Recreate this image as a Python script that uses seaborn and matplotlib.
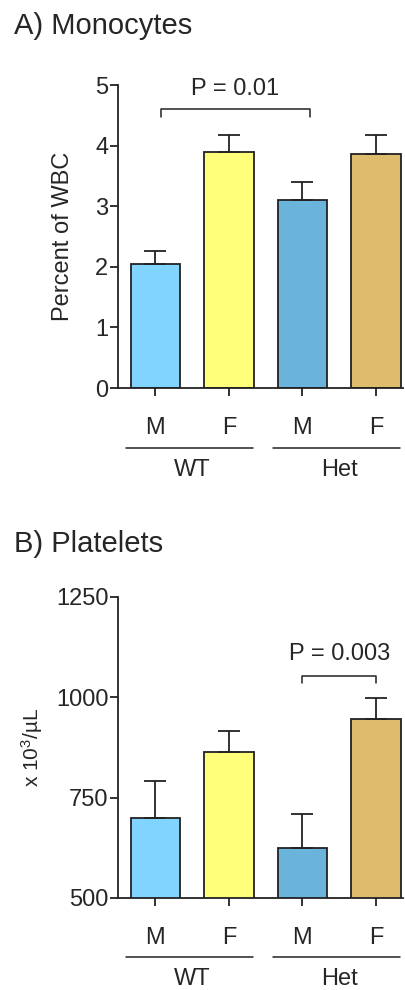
import matplotlib
matplotlib.use("Agg")
import matplotlib.pyplot as plt
import seaborn as sns
import numpy as np
import pandas as pd

# data
bar_labels = ["M", "F", "M", "F"]
genotypes = ["WT", "Het"]
bar_colors = ["#80D4FF", "#FFFF7A", "#6AB3DB", "#DFBB6E"]

mono_mean = [2.05, 3.89, 3.10, 3.87]
mono_sem = [0.22, 0.28, 0.30, 0.31]

plt_mean = [700, 864, 625, 946]
plt_sem = [92, 52, 84, 53]

sns.set_style("ticks")
plt.rcParams['font.family'] = ['Liberation Sans', 'DejaVu Sans']
plt.rcParams['mathtext.fontset'] = 'custom'
plt.rcParams['mathtext.rm'] = 'Liberation Sans'
plt.rcParams['mathtext.it'] = 'Liberation Sans'

fig = plt.figure(figsize=(4.06, 9.9), dpi=100)
axA = fig.add_axes([0.291, 0.608, 0.702, 0.306])
axB = fig.add_axes([0.291, 0.093, 0.702, 0.304])

ink = "#222222"


def draw_panel(ax, means, sems, ylim, yticks):
    df = pd.DataFrame({"pos": [0, 1, 2, 3], "val": means})
    sns.barplot(data=df, x="pos", y="val", hue="pos", palette=bar_colors,
                legend=False, width=0.67, edgecolor=ink, linewidth=1.3,
                saturation=1, errorbar=None, ax=ax)
    ax.errorbar(df["pos"], df["val"], yerr=[np.zeros(4), sems], fmt="none",
                ecolor=ink, elinewidth=1.3, capsize=8, capthick=1.3, zorder=1)
    ax.set_ylim(*ylim)
    ax.set_yticks(yticks)
    ax.set_xlim(-0.507, 3.37)
    ax.set_xticks([0, 1, 2, 3])
    ax.set_xticklabels([])
    ax.set_xlabel("")
    sns.despine(ax=ax)
    for s in ["left", "bottom"]:
        ax.spines[s].set_linewidth(1.3)
        ax.spines[s].set_color(ink)
    ax.tick_params(axis="both", length=6, width=1.3, color=ink,
                   labelsize=17, pad=1)
    ax.tick_params(axis="x", pad=0)
    # sex labels and genotype group lines
    for i, lab in enumerate(bar_labels):
        ax.annotate(lab, xy=(i, 0), xycoords=("data", "axes fraction"),
                    xytext=(0, -21), textcoords="offset points",
                    ha="center", va="top", fontsize=17)
    for g, (a, b) in zip(genotypes, [(0, 1), (2, 3)]):
        line_y = -0.197
        ax.plot([a - 0.4, b + 0.33], [line_y, line_y], color=ink, lw=1.1,
                transform=ax.get_xaxis_transform(), clip_on=False)
        ax.annotate(g, xy=((a + b) / 2, line_y), xycoords=("data", "axes fraction"),
                    xytext=(0, -8), textcoords="offset points",
                    ha="center", va="top", fontsize=17)


def bracket(ax, x0, x1, y, drop, label, ty):
    ax.plot([x0, x0, x1, x1], [y - drop, y, y, y - drop], color=ink,
            lw=1.1, clip_on=False)
    ax.text((x0 + x1) / 2, ty, label, ha="center", va="bottom", fontsize=17)


draw_panel(axA, mono_mean, mono_sem, (0, 5), [0, 1, 2, 3, 4, 5])
axA.set_ylabel("Percent of WBC", fontsize=17, labelpad=15)
bracket(axA, 0.08, 2.1, 4.6, 0.13, "P = 0.01", 4.76)

draw_panel(axB, plt_mean, plt_sem, (500, 1250), [500, 750, 1000, 1250])
axB.set_ylabel(r"x 10$^{3}$/µL", fontsize=15, labelpad=8)
bracket(axB, 2.0, 3.0, 1053, 17, "P = 0.003", 1080)

fig.text(0.035, 0.974, "A) Monocytes", fontsize=21, va="center", ha="left")
fig.text(0.035, 0.451, "B) Platelets", fontsize=21, va="center", ha="left")

fig.savefig("out.png", dpi=100)
